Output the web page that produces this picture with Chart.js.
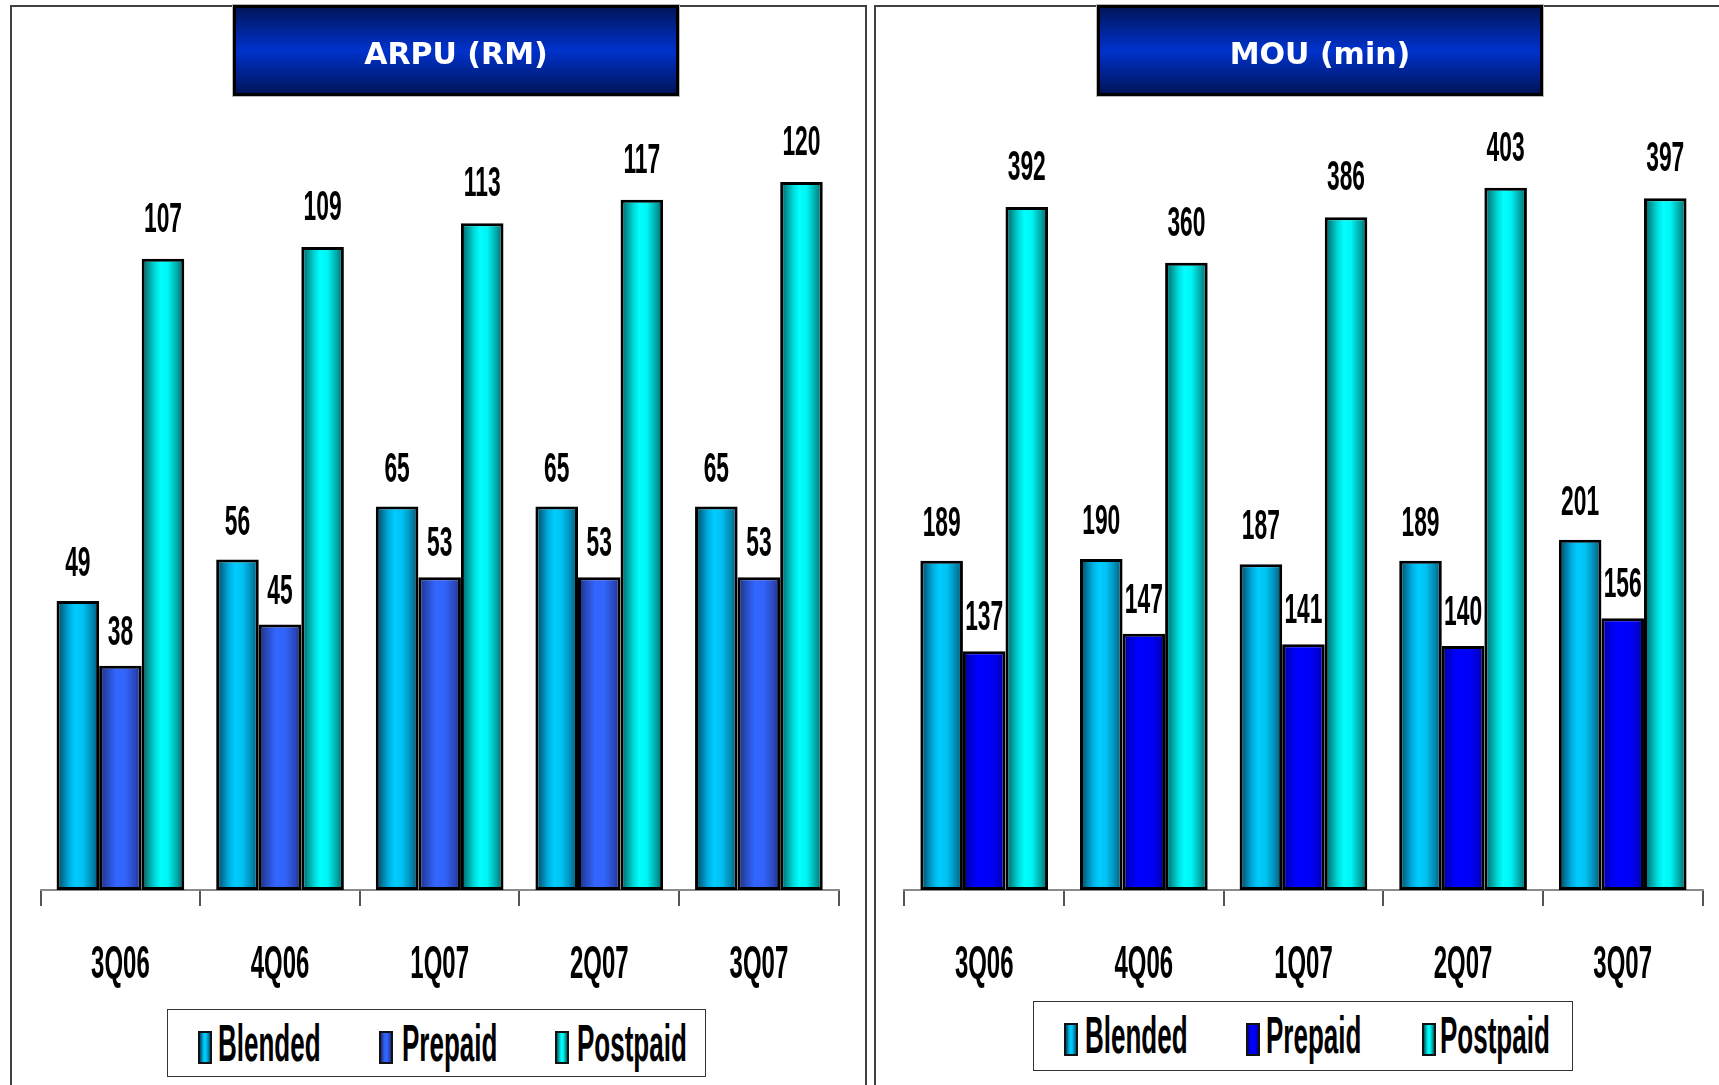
<!DOCTYPE html>
<html>
<head>
<meta charset="utf-8">
<title>ARPU / MOU</title>
<script src="https://cdn.jsdelivr.net/npm/chart.js@4/dist/chart.umd.min.js"></script>
<style>
  body { margin: 0; width: 1719px; height: 1085px; background: #fff; position: relative; overflow: hidden; }
  .panel { position: absolute; top: 5px; height: 1200px; border: 2px solid #404040; border-bottom: none; box-sizing: border-box; }
  #panelL { left: 10px; width: 857px; }
  #panelR { left: 874px; width: 900px; }
  canvas { position: absolute; top: 0; }
  #arpu { left: 0; }
  #mou { left: 870px; }
  .title {
    position: absolute; top: 5px; width: 446px; height: 91px; box-sizing: border-box; padding-top: 6px;
    border: 3px solid #000; box-shadow: 0 0 0 1px #b8b8b8;
    background: linear-gradient(to bottom, #00155a 0%, #0026a0 30%, #0033cc 50%, #0026a0 70%, #00155a 100%);
    color: #fff; font: bold 30px "DejaVu Sans", Verdana, sans-serif;
    display: flex; align-items: center; justify-content: center;
  }
  #titleL { left: 233px; }
  #titleR { left: 1097px; }
  .legend { position: absolute; border: 1.5px solid #333; box-sizing: border-box; background: #fff; }
  .key { position: absolute; width: 14px; height: 33px; box-sizing: border-box; border: 2px solid #111; }
  .name {
    position: absolute; font: bold 52px "Liberation Sans", Arial, sans-serif; line-height: 52px;
    color: #000; transform: scaleX(0.5); transform-origin: 0 0; white-space: nowrap;
  }
</style>
</head>
<body>
<div class="panel" id="panelL"></div>
<div class="panel" id="panelR"></div>
<canvas id="arpu" width="870" height="1085"></canvas>
<canvas id="mou" width="849" height="1085"></canvas>
<div class="title" id="titleL">ARPU (RM)</div>
<div class="title" id="titleR">MOU (min)</div>
<div class="legend" id="legendL" style="left:167px; top:1009px; width:539px; height:68px;"></div>
<div class="legend" id="legendR" style="left:1033px; top:1001px; width:540px; height:70px;"></div>

<script>
const quarters = ['3Q06', '4Q06', '1Q07', '2Q07', '3Q07'];
const seriesNames = ['Blended', 'Prepaid', 'Postpaid'];

const arpuBlended = [49, 56, 65, 65, 65];
const arpuPrepaid = [38, 45, 53, 53, 53];
const arpuPostpaid = [107, 109, 113, 117, 120];

const mouBlended = [189, 190, 187, 189, 201];
const mouPrepaid = [137, 147, 141, 140, 156];
const mouPostpaid = [392, 360, 386, 403, 397];

// cylinder-like shading, left edge -> right edge of each bar
const blendedShade = [[0, '#004b64'], [0.12, '#006c8e'], [0.3, '#00ade0'], [0.45, '#00ccff'], [0.62, '#00c2f2'], [0.82, '#008db8'], [1, '#00536e']];
const prepaidShadeL = [[0, '#1a2d7a'], [0.15, '#2644b0'], [0.4, '#3366ff'], [0.62, '#3264fa'], [0.85, '#2947be'], [1, '#1a2d7a']];
const prepaidShadeR = [[0, '#000088'], [0.15, '#0000cc'], [0.35, '#0000ff'], [0.7, '#0000f5'], [0.9, '#0000c4'], [1, '#00008c']];
const postpaidShade = [[0, '#005e5e'], [0.12, '#008c8c'], [0.3, '#00d6d6'], [0.45, '#00ffff'], [0.62, '#00f4f4'], [0.82, '#00acac'], [1, '#006262']];

function barFill(stops) {
  return function (c) {
    const chart = c.chart;
    const x = chart.scales.x;
    if (c.type !== 'data' || !x || !chart.chartArea) return stops[3][1];
    const n = chart.data.labels.length;
    const group = (x.width / n) * 0.8;
    const bw = group / chart.data.datasets.length;
    const left = x.getPixelForValue(c.dataIndex) - group / 2 + c.datasetIndex * bw;
    const g = chart.ctx.createLinearGradient(left, 0, left + bw, 0);
    stops.forEach(s => g.addColorStop(s[0], s[1]));
    return g;
  };
}

function cssShade(stops) {
  return 'linear-gradient(to right, ' + stops.map(s => s[1] + ' ' + (s[0] * 100) + '%').join(', ') + ')';
}

// numbers over the bars, drawn in a tall narrow face
const valueLabels = {
  id: 'valueLabels',
  afterDatasetsDraw(chart) {
    const ctx = chart.ctx;
    ctx.save();
    ctx.fillStyle = '#000';
    ctx.textAlign = 'center';
    ctx.textBaseline = 'alphabetic';
    ctx.font = 'bold 43px "Liberation Sans", Arial, sans-serif';
    chart.data.datasets.forEach((ds, di) => {
      chart.getDatasetMeta(di).data.forEach((bar, i) => {
        ctx.save();
        ctx.translate(bar.x, bar.y - ds.labelGap);
        ctx.scale(0.53, 1);
        ctx.fillText(String(ds.data[i]), 0, 0);
        ctx.restore();
      });
    });
    ctx.restore();
  }
};

// quarter names under the axis
const quarterLabels = {
  id: 'quarterLabels',
  afterDraw(chart) {
    const ctx = chart.ctx;
    const x = chart.scales.x;
    ctx.save();
    ctx.fillStyle = '#000';
    ctx.textAlign = 'center';
    ctx.font = 'bold 47px "Liberation Sans", Arial, sans-serif';
    chart.data.labels.forEach((q, i) => {
      ctx.save();
      ctx.translate(x.getPixelForValue(i), 978);
      ctx.scale(0.51, 1);
      ctx.fillText(q, 0, 0);
      ctx.restore();
    });
    ctx.restore();
  }
};

function makeChart(canvasId, values, shades, yMax, pad) {
  const gaps = [25, 21, 27];
  return new Chart(document.getElementById(canvasId), {
    type: 'bar',
    data: {
      labels: quarters,
      datasets: values.map((v, i) => ({
        label: seriesNames[i],
        data: v,
        labelGap: gaps[i],
        backgroundColor: barFill(shades[i]),
        borderColor: '#000',
        borderWidth: 3,
        borderSkipped: false,
        barPercentage: 1.0,
        categoryPercentage: 0.8
      }))
    },
    options: {
      responsive: false,
      animation: false,
      layout: { padding: pad },
      plugins: { legend: { display: false }, tooltip: { enabled: false } },
      scales: {
        x: {
          grid: { display: true, drawOnChartArea: false, drawTicks: true, tickLength: 16, color: '#555', lineWidth: 2, offset: true },
          border: { display: true, color: '#8a8a8a', width: 2 },
          ticks: { display: false }
        },
        y: { display: false, min: 0, max: yMax }
      }
    },
    plugins: [valueLabels, quarterLabels]
  });
}

function makeLegend(boxId, shades, keyX, textX, keyTop, textTop) {
  const box = document.getElementById(boxId);
  const bx = parseFloat(box.style.left), by = parseFloat(box.style.top);
  seriesNames.forEach((name, i) => {
    const key = document.createElement('div');
    key.className = 'key';
    key.style.left = (keyX[i] - bx) + 'px';
    key.style.top = (keyTop - by) + 'px';
    key.style.background = cssShade(shades[i]);
    box.appendChild(key);
    const t = document.createElement('div');
    t.className = 'name';
    t.textContent = name;
    t.style.left = (textX[i] - bx) + 'px';
    t.style.top = (textTop - by) + 'px';
    box.appendChild(t);
  });
}

const arpuChart = makeChart('arpu', [arpuBlended, arpuPrepaid, arpuPostpaid],
  [blendedShade, prepaidShadeL, postpaidShade], 140,
  { left: 40.6, right: 31.3, top: 64, bottom: 179 });
const mouChart = makeChart('mou', [mouBlended, mouPrepaid, mouPostpaid],
  [blendedShade, prepaidShadeR, postpaidShade], 474,
  { left: 34.4, right: 16.5, top: 64, bottom: 179 });

makeLegend('legendL', [blendedShade, prepaidShadeL, postpaidShade], [197, 378, 554], [217, 401, 576], 1030, 1016);
makeLegend('legendR', [blendedShade, prepaidShadeR, postpaidShade], [1063, 1245, 1421], [1084, 1265, 1439], 1022, 1008);
</script>
</body>
</html>
